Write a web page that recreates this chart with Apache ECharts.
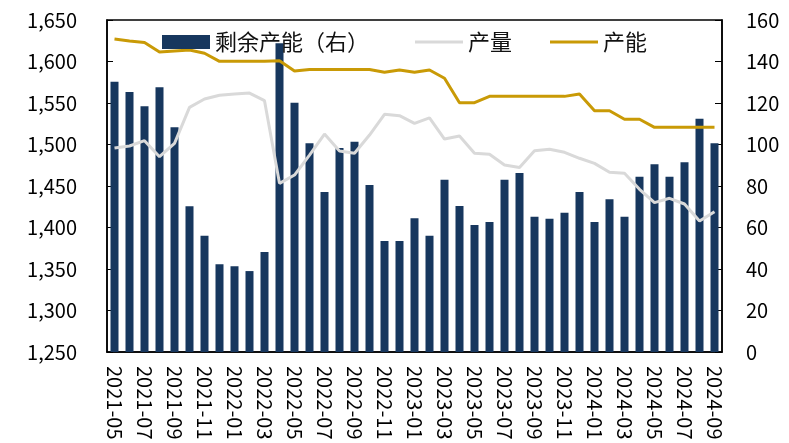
<!DOCTYPE html>
<html>
<head>
<meta charset="utf-8">
<script src="https://cdn.jsdelivr.net/npm/echarts/dist/echarts.min.js"></script>
<style>
  html, body { margin: 0; padding: 0; background: #fff; }
  #chart { width: 789px; height: 443px; }
</style>
</head>
<body>
<div id="chart"></div>
<script>
const months = [
  '2021-05', '2021-06', '2021-07', '2021-08', '2021-09', '2021-10', '2021-11', '2021-12',
  '2022-01', '2022-02', '2022-03', '2022-04', '2022-05', '2022-06', '2022-07', '2022-08',
  '2022-09', '2022-10', '2022-11', '2022-12', '2023-01', '2023-02', '2023-03', '2023-04',
  '2023-05', '2023-06', '2023-07', '2023-08', '2023-09', '2023-10', '2023-11', '2023-12',
  '2024-01', '2024-02', '2024-03', '2024-04', '2024-05', '2024-06', '2024-07', '2024-08',
  '2024-09'
]

// 剩余产能（右轴）
const spareCapacity = [
  130.3, 125.3, 118.4, 127.6, 108.3, 70.2, 56.0, 42.3,
  41.3, 39.0, 48.2, 148.8, 120.1, 100.6, 77.1, 98.3,
  101.3, 80.5, 53.5, 53.5, 64.4, 56.0, 83.0, 70.4,
  61.2, 62.7, 83.0, 86.3, 65.2, 64.2, 67.1, 77.1,
  62.7, 73.6, 65.2, 84.5, 90.5, 84.5, 91.4, 112.4,
  100.6
]

// 产量
const output = [
  1495.8, 1498.2, 1504.6, 1485.3, 1501.4, 1544.8, 1554.8, 1559.3,
  1560.8, 1562.0, 1552.8, 1453.2, 1463.2, 1487.3, 1512.6, 1492.2,
  1489.4, 1511.4, 1536.4, 1534.7, 1525.5, 1532.0, 1506.6, 1510.2,
  1489.4, 1488.2, 1475.3, 1472.3, 1492.5, 1494.2, 1490.6, 1483.4,
  1477.3, 1466.5, 1465.3, 1446.0, 1429.9, 1435.2, 1428.3, 1407.8,
  1419.0
]

// 产能
const capacity = [
  1627.0, 1624.7, 1623.0, 1611.4, 1612.6, 1613.8, 1609.9, 1600.2,
  1600.2, 1600.2, 1600.2, 1601.0, 1588.6, 1590.4, 1590.4, 1590.4,
  1590.4, 1590.4, 1587.0, 1589.8, 1587.0, 1589.8, 1579.8, 1550.4,
  1550.4, 1558.0, 1558.0, 1558.0, 1558.0, 1558.0, 1558.0, 1560.8,
  1540.7, 1540.7, 1530.4, 1530.4, 1520.7, 1520.7, 1520.7, 1520.7,
  1520.7
]

const font = '"Noto Sans CJK SC", "Noto Sans", sans-serif'
const navy = '#17375e'
const grey = '#d9d9d9'
const gold = '#c99a06'

const chart = echarts.init(document.getElementById('chart'))

const legendBase = {
  top: 26,
  itemWidth: 48,
  itemHeight: 14,
  itemGap: 4,
  textStyle: { fontFamily: font, fontSize: 22, color: '#111' }
}

const option = {
  animation: false,
  backgroundColor: '#fff',
  legend: [
    { ...legendBase, left: 157, data: [{ name: '剩余产能（右）', icon: 'rect' }] },
    { ...legendBase, left: 410, itemHeight: 3, data: [{ name: '产量', icon: 'rect' }] },
    { ...legendBase, left: 545, itemHeight: 3, data: [{ name: '产能', icon: 'rect' }] }
  ],
  grid: {
    left: 107,
    right: 67,
    top: 20,
    bottom: 91,
    show: true,
    borderColor: '#000',
    borderWidth: 1.5
  },
  xAxis: {
    type: 'category',
    data: months,
    boundaryGap: true,
    axisLine: { lineStyle: { color: '#000', width: 1.5 } },
    axisTick: { inside: true, interval: 1, length: 5, lineStyle: { color: '#000' } },
    axisLabel: {
      interval: 1,
      rotate: -90,
      margin: 14,
      fontFamily: font,
      fontSize: 20,
      color: '#000'
    }
  },
  yAxis: [
    {
      type: 'value',
      min: 1250,
      max: 1650,
      interval: 50,
      splitLine: { show: false },
      axisLine: { show: true, lineStyle: { color: '#000', width: 1.5 } },
      axisTick: { show: true, inside: true, length: 6, lineStyle: { color: '#000' } },
      axisLabel: {
        margin: 30,
        fontFamily: font,
        fontSize: 20,
        color: '#000',
        formatter: v => v.toLocaleString('en-US')
      }
    },
    {
      type: 'value',
      min: 0,
      max: 160,
      interval: 20,
      splitLine: { show: false },
      axisLine: { show: true, lineStyle: { color: '#000', width: 1.5 } },
      axisTick: { show: true, inside: true, length: 7, lineStyle: { color: '#000' } },
      axisLabel: {
        margin: 24,
        fontFamily: font,
        fontSize: 20,
        color: '#000'
      }
    }
  ],
  series: [
    {
      name: '剩余产能（右）',
      type: 'bar',
      yAxisIndex: 1,
      data: spareCapacity,
      barWidth: 8,
      itemStyle: { color: navy }
    },
    {
      name: '产量',
      type: 'line',
      data: output,
      symbol: 'none',
      lineStyle: { color: grey, width: 3 },
      itemStyle: { color: grey }
    },
    {
      name: '产能',
      type: 'line',
      data: capacity,
      symbol: 'none',
      lineStyle: { color: gold, width: 3 },
      itemStyle: { color: gold }
    }
  ]
}

chart.setOption(option)
</script>
</body>
</html>
